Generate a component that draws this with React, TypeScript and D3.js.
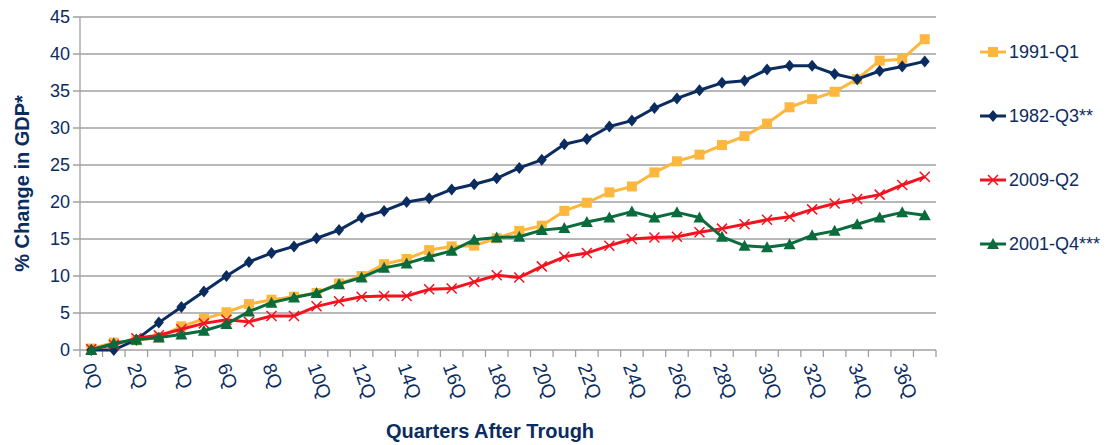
import * as d3 from "d3";

const quarters = d3.range(0, 38);
const tickLabels = d3.range(0, 37, 2).map((q) => `${q}Q`);
const yTicks = [0, 5, 10, 15, 20, 25, 30, 35, 40, 45];

const s1991 = [
  0.2, 1.0, 1.3, 1.7, 3.2, 4.2, 5.1, 6.2, 6.8, 7.2, 7.7, 9.0, 10.0, 11.6, 12.3, 13.5, 14.0, 14.1, 15.1,
  16.1, 16.8, 18.8, 19.9, 21.3, 22.1, 24.0, 25.5, 26.4, 27.7, 28.9, 30.6, 32.8, 33.9, 34.9, 36.6, 39.1,
  39.3, 42.0,
];
const s1982 = [
  0, 0, 1.4, 3.7, 5.8, 7.9, 10.0, 11.9, 13.1, 14.0, 15.1, 16.2, 17.9, 18.8, 20.0, 20.5, 21.7, 22.4, 23.2,
  24.6, 25.7, 27.8, 28.5, 30.2, 31.0, 32.7, 34.0, 35.1, 36.1, 36.4, 37.9, 38.4, 38.4, 37.3, 36.6, 37.7,
  38.3, 39.0,
];
const s2009 = [
  0.1, 0.7, 1.6, 2.0, 2.8, 3.6, 4.1, 3.8, 4.6, 4.6, 5.9, 6.6, 7.2, 7.3, 7.3, 8.2, 8.3, 9.2, 10.1, 9.8,
  11.3, 12.6, 13.1, 14.1, 15.0, 15.2, 15.3, 15.9, 16.4, 17.0, 17.6, 18.0, 19.0, 19.8, 20.4, 21.0, 22.3,
  23.4,
];
const s2001 = [
  0, 0.9, 1.4, 1.7, 2.1, 2.6, 3.5, 5.2, 6.4, 7.1, 7.7, 8.9, 9.8, 11.1, 11.7, 12.6, 13.4, 14.9, 15.2, 15.3,
  16.2, 16.5, 17.3, 17.9, 18.7, 17.9, 18.6, 17.9, 15.3, 14.1, 13.9, 14.3, 15.5, 16.1, 17.0, 17.9, 18.6,
  18.2,
];

const series = [
  { name: "1991-Q1", values: s1991, color: "#FDB73E", marker: "square" },
  { name: "1982-Q3**", values: s1982, color: "#0B2C5F", marker: "diamond" },
  { name: "2009-Q2", values: s2009, color: "#F5121F", marker: "cross" },
  { name: "2001-Q4***", values: s2001, color: "#0A6B3C", marker: "triangle" },
];

const W = 1112;
const H = 445;
const plot = { left: 80, right: 936, top: 17, bottom: 350 };
const textColor = "#0B2C5F";
const gridColor = "#A0A0A0";
const font = "'Liberation Sans', Arial, sans-serif";
const narrow = "'Liberation Sans Narrow', 'Liberation Sans', Arial, sans-serif";

function Marker({ type, x, y, color }: { type: string; x: number; y: number; color: string }) {
  if (type === "square") return <rect x={x - 5} y={y - 5} width={10} height={10} fill={color} />;
  if (type === "diamond")
    return <path d={`M${x},${y - 6}L${x + 5},${y}L${x},${y + 6}L${x - 5},${y}Z`} fill={color} />;
  if (type === "triangle")
    return <path d={`M${x},${y - 6}L${x + 6},${y + 5}L${x - 6},${y + 5}Z`} fill={color} />;
  return (
    <path
      d={`M${x - 5},${y - 5}L${x + 5},${y + 5}M${x - 5},${y + 5}L${x + 5},${y - 5}`}
      stroke={color}
      strokeWidth={1.5}
      fill="none"
    />
  );
}

export default function App() {
  const x = d3.scaleBand<number>().domain(quarters).range([plot.left, plot.right]);
  const cx = (q: number) => (x(q) ?? 0) + x.bandwidth() / 2;
  const y = d3.scaleLinear().domain([0, 45]).range([plot.bottom, plot.top]);
  const line = d3
    .line<number>()
    .x((_, i) => cx(quarters[i]))
    .y((d) => y(d));

  const boundaries = d3.range(0, quarters.length + 1).map((k) => plot.left + k * x.step());

  return (
    <svg
      width={W}
      height={H}
      style={{ position: "absolute", left: 0, top: 0, background: "#fff" }}
    >
      {yTicks.map((t) => (
        <g key={t}>
          <line x1={plot.left - 7} x2={plot.right} y1={y(t)} y2={y(t)} stroke={gridColor} strokeWidth={1.3} />
          <text
            x={plot.left - 10}
            y={y(t)}
            dy="0.35em"
            textAnchor="end"
            fontFamily={font}
            fontSize={18}
            fill={textColor}
          >
            {t}
          </text>
        </g>
      ))}
      <line x1={plot.left} x2={plot.left} y1={plot.top} y2={plot.bottom} stroke={gridColor} strokeWidth={1.3} />
      {boundaries.map((bx, k) => (
        <line key={k} x1={bx} x2={bx} y1={plot.bottom} y2={plot.bottom + 7} stroke={gridColor} strokeWidth={1.3} />
      ))}
      {tickLabels.map((lab, i) => {
        const px = cx(i * 2) - 3;
        const py = plot.bottom + 14;
        return (
          <text
            key={lab}
            transform={`translate(${px},${py}) rotate(70)`}
            dy="0.35em"
            textAnchor="start"
            fontFamily={font}
            fontSize={19}
            fill={textColor}
          >
            {lab}
          </text>
        );
      })}

      {series.map((s) => (
        <g key={s.name}>
          <path d={line(s.values) ?? ""} fill="none" stroke={s.color} strokeWidth={3} strokeLinejoin="round" />
          {s.values.map((v, i) => (
            <Marker key={i} type={s.marker} x={cx(quarters[i])} y={y(v)} color={s.color} />
          ))}
        </g>
      ))}

      {series.map((s, i) => {
        const ly = 52 + i * 64;
        return (
          <g key={s.name}>
            <line x1={980} x2={1006} y1={ly} y2={ly} stroke={s.color} strokeWidth={3} />
            <Marker type={s.marker} x={993} y={ly} color={s.color} />
            <text x={1009} y={ly} dy="0.35em" fontFamily={font} fontSize={18} fill={textColor}>
              {s.name}
            </text>
          </g>
        );
      })}

      <text
        transform={`translate(22,${(plot.top + plot.bottom) / 2}) rotate(-90)`}
        textAnchor="middle"
        dy="0.35em"
        fontFamily={narrow}
        fontWeight="bold"
        fontSize={20}
        fill={textColor}
      >
        % Change in GDP*
      </text>
      <text
        x={490}
        y={431}
        textAnchor="middle"
        dy="0.35em"
        fontFamily={narrow}
        fontWeight="bold"
        fontSize={20}
        fill={textColor}
      >
        Quarters After Trough
      </text>
    </svg>
  );
}
